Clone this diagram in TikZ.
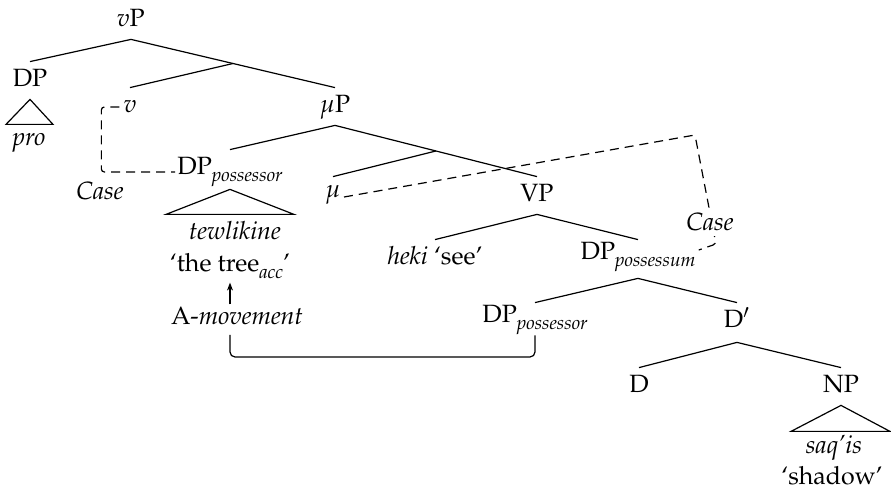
\documentclass[tikz,border=0pt]{standalone}
\usepackage[T1]{fontenc}
\usepackage{mathpazo}
\usetikzlibrary{arrows.meta,calc}
\newcommand{\subx}[1]{\raisebox{-3.5pt}{\fontsize{9.5}{10}\selectfont\textit{#1}}}
\begin{document}
\begin{tikzpicture}[x=0.5pt,y=-0.5pt,
  font=\fontsize{12.5}{15}\selectfont,
  cat/.style={inner xsep=0pt, inner ysep=6pt, text height=6.5pt, text depth=0pt, anchor=base},
  txt/.style={inner sep=0pt, anchor=base},
  branch/.style={line width=0.6pt},
  dashline/.style={line width=0.6pt, dash pattern=on 4.5pt off 3pt, rounded corners=1.5pt}]
\useasboundingbox (0,0) rectangle (891,491);
% nodes
\node[cat] (vP) at (131,27) {\textit{v}P};
\node[cat] (DPa) at (30,87) {DP};
\node[txt] (pro) at (29,146) {\textit{pro}};
\node[cat] (v) at (130,113) {\textit{v}};
\node[txt] (CaseL) at (100,200) {\textit{Case}};
\node[cat] (DPr) at (230,175) {DP\subx{possessor}};
\node[txt] (tew) at (235,240) {\textit{tewlikine}};
\node[txt] (tree) at (230,272) {`the tree\subx{acc}'};
\node[txt] (Amov) at (237,325) {A-\textit{movement}};
\node[cat] (muP) at (335,113) {$\mu$P};
\node[cat, text height=4.5pt] (mu) at (333,198) {$\mu$};
\node[cat] (VP) at (537,202) {VP};
\node[cat] (heki) at (435,265) {\textit{heki} `see'};
\node[cat, text height=4pt, text depth=3pt] (DPm) at (638,260) {DP\subx{possessum}};
\node[cat, text height=4pt] (DPr2) at (535,323) {DP\subx{possessor}};
\node[cat, text depth=1pt] (Dbar) at (737,328) {D$'$};
\node[cat] (D) at (639,393) {D};
\node[cat] (NP) at (841,393) {NP};
\node[txt] (saq) at (834,454) {\textit{saq'is}};
\node[txt] (shadow) at (832,485) {`shadow'};
% branches
\draw[branch] (vP.south) -- (DPa.north);
\draw[branch] (vP.south) -- (muP.north);
\coordinate (vbar) at ($(vP.south)!0.5!(muP.north)$);
\draw[branch] (vbar) -- (v.north);
\draw[branch] (muP.south) -- (DPr.north);
\draw[branch] (muP.south) -- (VP.north);
\coordinate (mubar) at ($(muP.south)!0.5!(VP.north)$);
\draw[branch] (mubar) -- (mu.north);
\draw[branch] (VP.south) -- (heki.north);
\draw[branch] (VP.south) -- (DPm.north);
\draw[branch] (DPm.south) -- (DPr2.north);
\draw[branch] (DPm.south) -- (Dbar.north);
\draw[branch] (Dbar.south) -- (D.north);
\draw[branch] (Dbar.south) -- (NP.north);
% triangles
\draw[branch] (DPa.south) -- ++(-24,25) -- ++(47,0) -- cycle;
\draw[branch] ([yshift=-1pt]DPr.south) -- ++(-64,25) -- ++(128,0) -- cycle;
\draw[branch] (NP.south) -- ++(-50,26) -- ++(99,0) -- cycle;
% dashed case links
\draw[dashline] ([xshift=-2pt,yshift=3pt]v.base west) -- ++(-18,0) |- ([xshift=-1pt,yshift=1.5pt]DPr.base west);
\coordinate (c1) at (695,135);
\coordinate (c2) at (716,244);
\draw[dashline] ([xshift=1.5pt,yshift=0.5pt]mu.base east) -- (c1) -- (c2) -- ([xshift=1.5pt,yshift=5pt]DPm.base east);
\node[txt, fill=white, inner sep=2.5pt] (CaseR) at (710,231) {\textit{Case}};
% movement
\draw[branch, -{Stealth[length=4pt,width=3pt]}] ([yshift=1.5pt]Amov.north -| tree.south) -- ([yshift=-1.5pt]tree.south);
\draw[branch, rounded corners=2.5pt] ([yshift=-5pt]Amov.base -| tree.south) -- ++(0,22) -| (DPr2.south);
\end{tikzpicture}
\end{document}
